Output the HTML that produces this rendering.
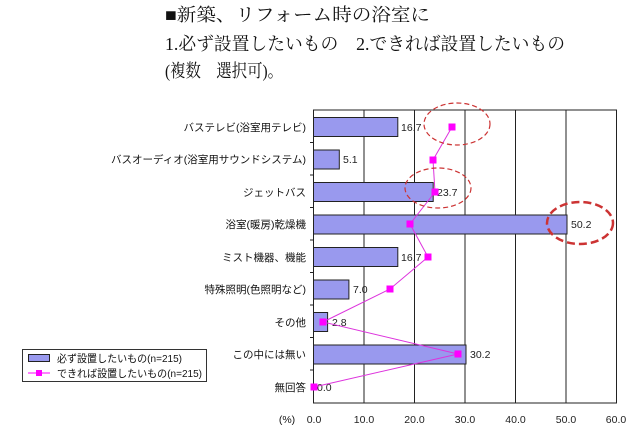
<!DOCTYPE html>
<html><head><meta charset="utf-8"><style>
body{margin:0;background:#fff;width:640px;height:430px;overflow:hidden}
svg{display:block}
.t{font-family:"Liberation Serif","Noto Serif CJK SC",serif;font-size:18px;fill:#111}
.c{font-family:"Liberation Sans","Noto Sans CJK JP",sans-serif;font-size:10.5px;fill:#111}
.v{font-family:"Liberation Sans",sans-serif;font-size:10.5px;fill:#222}
</style></head><body>
<svg width="640" height="430" viewBox="0 0 640 430" xmlns="http://www.w3.org/2000/svg">
<text class="t" x="165" y="21" textLength="265" lengthAdjust="spacingAndGlyphs">■新築、リフォーム時の浴室に</text>
<text class="t" x="165" y="50" textLength="400" lengthAdjust="spacingAndGlyphs">1.必ず設置したいもの　2.できれば設置したいもの</text>
<text class="t" x="165" y="77" textLength="118" lengthAdjust="spacingAndGlyphs">(複数　選択可)。</text>
<g stroke="#222" stroke-width="1">
<line x1="364" y1="110" x2="364" y2="403"/>
<line x1="414.5" y1="110" x2="414.5" y2="403"/>
<line x1="465" y1="110" x2="465" y2="403"/>
<line x1="515.5" y1="110" x2="515.5" y2="403"/>
<line x1="566" y1="110" x2="566" y2="403"/>
<rect x="313.5" y="110" width="303" height="293" fill="none"/>
<path d="M310 142.5h4M310 175h4M310 207.5h4M310 240h4M310 272.5h4M310 305h4M310 337.5h4M310 370h4"/>
</g>
<g fill="#9999ee" stroke="#222" stroke-width="1">
<rect x="313.5" y="117.5" width="84.3" height="19"/>
<rect x="313.5" y="150" width="25.8" height="19"/>
<rect x="313.5" y="182.5" width="119.7" height="19"/>
<rect x="313.5" y="215" width="253.5" height="19"/>
<rect x="313.5" y="247.5" width="84.3" height="19"/>
<rect x="313.5" y="280" width="35.4" height="19"/>
<rect x="313.5" y="312.5" width="14.1" height="19"/>
<rect x="313.5" y="345" width="152.5" height="19"/>
</g>
<g class="v">
<text x="401" y="131">16.7</text><text x="343" y="163">5.1</text>
<text x="437" y="196">23.7</text><text x="571" y="228">50.2</text>
<text x="401" y="261">16.7</text><text x="353" y="293">7.0</text>
<text x="332" y="326">2.8</text><text x="470" y="358">30.2</text>
<text x="317" y="391">0.0</text>
</g>
<polyline fill="none" stroke="#dd33dd" stroke-width="1" points="452,127 433,160 435,192 410,224 428,257 390,289 323,322 458,354 314,387"/>
<g fill="#ff00ff">
<rect x="448.5" y="123.5" width="7" height="7"/><rect x="429.5" y="156.5" width="7" height="7"/>
<rect x="431.5" y="188.5" width="7" height="7"/><rect x="406.5" y="220.5" width="7" height="7"/>
<rect x="424.5" y="253.5" width="7" height="7"/><rect x="386.5" y="285.5" width="7" height="7"/>
<rect x="319.5" y="318.5" width="7" height="7"/><rect x="454.5" y="350.5" width="7" height="7"/>
<rect x="310.5" y="383.5" width="7" height="7"/>
</g>
<g fill="none" stroke="#cc3333" stroke-dasharray="5,3">
<ellipse cx="457" cy="124" rx="33" ry="21" stroke-width="1.2"/>
<ellipse cx="438" cy="188" rx="33" ry="20" stroke-width="1.2"/>
<ellipse cx="580" cy="223" rx="33" ry="21" stroke-width="2.5" stroke-dasharray="8,4"/>
</g>
<g class="c" text-anchor="end">
<text x="306" y="131">バステレビ(浴室用テレビ)</text>
<text x="306" y="163">バスオーディオ(浴室用サウンドシステム)</text>
<text x="306" y="196">ジェットバス</text>
<text x="306" y="228">浴室(暖房)乾燥機</text>
<text x="306" y="261">ミスト機器、機能</text>
<text x="306" y="293">特殊照明(色照明など)</text>
<text x="306" y="326">その他</text>
<text x="306" y="358">この中には無い</text>
<text x="306" y="391">無回答</text>
</g>
<g class="v" text-anchor="middle">
<text x="314" y="423">0.0</text><text x="364" y="423">10.0</text><text x="414.5" y="423">20.0</text>
<text x="465" y="423">30.0</text><text x="515.5" y="423">40.0</text><text x="566" y="423">50.0</text><text x="616" y="423">60.0</text>
<text x="287" y="423" class="c">(%)</text>
</g>
<rect x="22.5" y="349.5" width="184" height="32" fill="#fff" stroke="#333"/>
<rect x="28.5" y="354.5" width="21" height="7" fill="#9999ee" stroke="#222"/>
<line x1="28" y1="373" x2="50" y2="373" stroke="#ff00ff"/>
<rect x="36" y="370" width="6" height="6" fill="#ff00ff"/>
<text class="c" x="57" y="362" textLength="125" lengthAdjust="spacingAndGlyphs">必ず設置したいもの(n=215)</text>
<text class="c" x="57" y="377" textLength="145" lengthAdjust="spacingAndGlyphs">できれば設置したいもの(n=215)</text>
</svg>
</body></html>
